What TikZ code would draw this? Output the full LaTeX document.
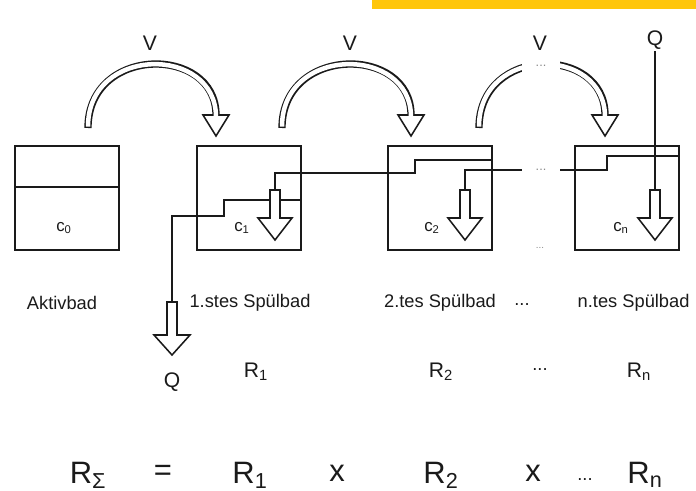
\documentclass[tikz,border=0pt]{standalone}
\usepackage{fontspec}
\setmainfont{Liberation Sans}
\usetikzlibrary{positioning}
\definecolor{ink}{HTML}{1A1A1A}
\definecolor{gold}{HTML}{FFC60B}
\definecolor{faint}{HTML}{8A8A8A}
\tikzset{
  tank/.style={draw=ink, line width=1.1pt, minimum width=2.6cm,
               minimum height=2.6cm, inner sep=0pt},
  pipe/.style={draw=ink, line width=1.1pt},
  blockarr/.style={draw=ink, line width=1.1pt, fill=white, line join=miter},
  bendout/.style={draw=ink, line width=5.2pt},
  bendin/.style={draw=white, line width=3.2pt, shorten <=1pt, shorten >=-1.4pt},
  %
  lbl/.style={font=\fontsize{13}{15}\selectfont, text=ink, inner sep=1pt},
  sym/.style={font=\fontsize{15}{17}\selectfont, text=ink, inner sep=1pt},
  big/.style={font=\fontsize{22}{25}\selectfont, text=ink, inner sep=1pt},
  conc/.style={font=\fontsize{12}{14}\selectfont, text=ink, inner sep=1pt},
  gap/.style={font=\fontsize{9}{10}\selectfont, text=faint, fill=white,
              inner sep=0pt, minimum width=0.95cm, minimum height=0.38cm},
}

\begin{document}
\begin{tikzpicture}[x=0.025cm, y=-0.025cm]
  \useasboundingbox (0,0) rectangle (696,491);
  \fill[gold] (372,0) rectangle (696,9);

  % the baths
  \node[tank] (t0) at (67,198) {};
  \node[tank] (t1) at (249,198) {};
  \node[tank] (t2) at (440,198) {};
  \node[tank] (tn) at (627,198) {};
  \draw[pipe] (t0.west |- 0,187) -- (t0.east |- 0,187);

  \node[conc] (c0) at (64,228) {c\textsubscript{0}};
  \node[conc] (c1) at (242,228) {c\textsubscript{1}};
  \node[conc] (c2) at (432,228) {c\textsubscript{2}};
  \node[conc] (cn) at (621,228) {c\textsubscript{n}};

  % carry-over V between baths
  \foreach \a/\b in {88/216, 282/411, 479/605} {
    \draw[blockarr] ({\b-13},115) -- (\b,136) -- ({\b+13},115) -- cycle;
    \draw[bendout] (\a,128) .. controls (\a,45) and (\b,45) .. (\b,115);
    \draw[bendin] (\a,128) .. controls (\a,45) and (\b,45) .. (\b,115);
  }
  \node[gap] (dotsv) at (541,66) {...};

  \node[sym] (v1) at (150,43) {V};
  \node[sym] (v2) at (350,43) {V};
  \node[sym] (v3) at (540,43) {V};
  \node[sym] (qin) at (655,40) {Q};

  % inlets of the arrows
  \coordinate (in1) at (275,190);
  \coordinate (in2) at (465,190);
  \coordinate (inn) at (655,190);
  \coordinate (out) at (172,302);

  % rinse water against the flow
  \draw[pipe] (qin.south) -- (inn);
  \draw[pipe] (tn.east |- 0,156) -- (607,156) -- (607,170) -- (465,170) -- (in2);
  \node[gap] (dotsp) at (541,170) {...};
  \draw[pipe] (t2.east |- 0,160) -- (415,160) -- (415,173) -- (275,173) -- (in1);
  \draw[pipe] (t1.east |- 0,200) -- (224,200) -- (224,216) -- (172,216) -- (out);

  \foreach \cx/\top/\base/\tip/\w in {275/190/218/240/17, 465/190/218/240/17,
                                      655/190/218/240/17, 172/302/335/355/18} {
    \draw[blockarr] ({\cx-5},\top) -- ({\cx-5},\base) -- ({\cx-\w},\base)
      -- (\cx,\tip) -- ({\cx+\w},\base) -- ({\cx+5},\base) -- ({\cx+5},\top) -- cycle;
  }
  \node[font=\fontsize{7}{8}\selectfont, text=faint] (dotsb) at (540,248) {...};

  \node[sym] (qout) at (172,382) {Q};

  % names of the baths
  \node[lbl] (nm0) at (62,303) {Aktivbad};
  \node[lbl] (nm1) at (250,303) {1.stes Spülbad};
  \node[lbl] (nm2) at (440,303) {2.tes Spülbad};
  \node[lbl] (nmd) at (522,305) {...};
  \node[lbl, anchor=west] (nmn) at (576,303) {n.tes Spülbad};

  % rinse ratios
  \node[sym] (r1) at (256,372) {R\textsubscript{1}};
  \node[sym] (r2) at (441,372) {R\textsubscript{2}};
  \node[lbl] (rd) at (540,370) {...};
  \node[sym] (rn) at (639,372) {R\textsubscript{n}};

  \node[big] (rs) at (88,475) {R\textsubscript{Σ}};
  \node[big] (eq) at (163,473) {=};
  \node[big] (f1) at (250,475) {R\textsubscript{1}};
  \node[big] (x1) at (337,473) {x};
  \node[big] (f2) at (441,475) {R\textsubscript{2}};
  \node[big] (x2) at (533,473) {x};
  \node[lbl] (fd) at (585,480) {...};
  \node[big] (fn) at (645,475) {R\textsubscript{n}};
\end{tikzpicture}
\end{document}
